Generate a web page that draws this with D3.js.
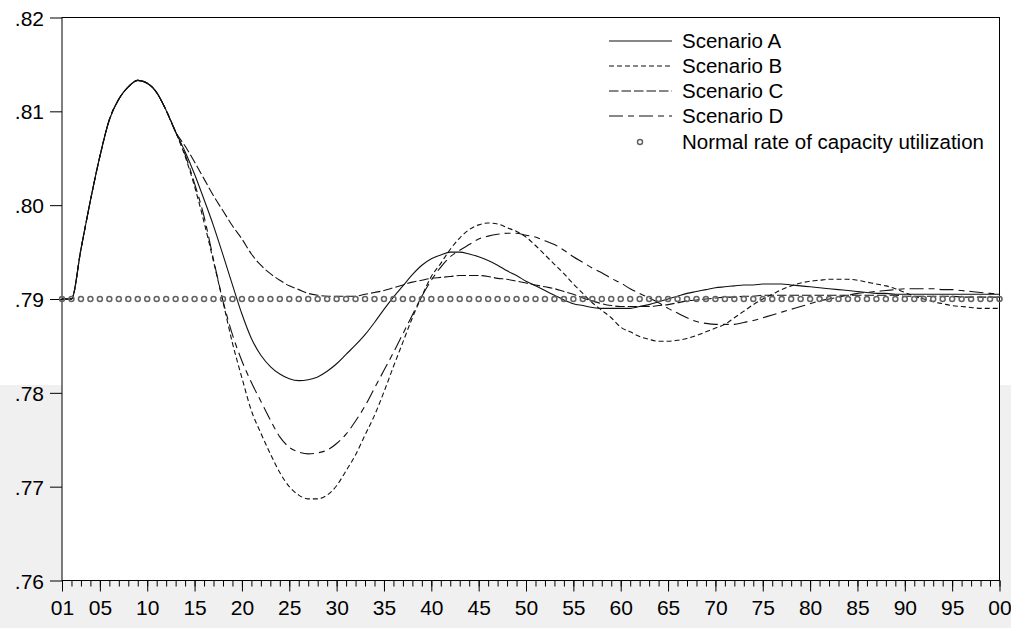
<!DOCTYPE html>
<html>
<head>
<meta charset="utf-8">
<script src="https://cdn.jsdelivr.net/npm/d3@7"></script>
<style>
  body { margin: 0; background: #fff; }
  svg { display: block; font-family: Arial, "Liberation Sans", sans-serif; }
</style>
</head>
<body>
<svg id="chart" width="1011" height="628"></svg>
<script>
// periods 01..00 (1..100)
var periods = d3.range(1, 101);
var xTickValues = [1, 5, 10, 15, 20, 25, 30, 35, 40, 45, 50, 55, 60, 65, 70, 75, 80, 85, 90, 95, 100];
var xTickLabels = ["01", "05", "10", "15", "20", "25", "30", "35", "40", "45", "50", "55", "60", "65", "70", "75", "80", "85", "90", "95", "00"];
var yTickValues = [0.76, 0.77, 0.78, 0.79, 0.80, 0.81, 0.82];
var yTickLabels = [".76", ".77", ".78", ".79", ".80", ".81", ".82"];
var normalRate = 0.79;

var scenarioA = [
  .7900, .7900, .7953, .8005, .8052, .8091, .8113, .8126, .8133, .8130,
  .8120, .8101, .8078, .8057, .8033, .8006, .7978, .7947, .7915, .7884,
  .7858, .7840, .7828, .7820, .7815, .7813, .7814, .7817, .7823, .7831,
  .7841, .7851, .7862, .7875, .7889, .7902, .7914, .7926, .7936, .7943,
  .7947, .7950, .7950, .7948, .7945, .7941, .7936, .7930, .7925, .7919,
  .7914, .7909, .7904, .7899, .7895, .7893, .7891, .7890, .7890, .7890,
  .7890, .7892, .7894, .7897, .7900, .7903, .7906, .7908, .7910, .7912,
  .7913, .7914, .7915, .7915, .7916, .7916, .7916, .7915, .7914, .7913,
  .7912, .7911, .7910, .7909, .7908, .7907, .7906, .7906, .7905, .7905,
  .7905, .7905, .7905, .7905, .7905, .7905, .7905, .7905, .7905, .7905
];
var scenarioB = [
  .7900, .7900, .7953, .8005, .8052, .8091, .8113, .8126, .8133, .8130,
  .8120, .8101, .8078, .8052, .8020, .7982, .7940, .7897, .7853, .7816,
  .7781, .7757, .7735, .7715, .7700, .7691, .7687, .7687, .7691, .7701,
  .7717, .7734, .7755, .7776, .7801, .7828, .7854, .7880, .7903, .7924,
  .7938, .7953, .7965, .7974, .7979, .7981, .7980, .7976, .7972, .7966,
  .7957, .7947, .7937, .7927, .7916, .7906, .7896, .7888, .7880, .7870,
  .7865, .7860, .7857, .7855, .7855, .7856, .7858, .7861, .7865, .7869,
  .7873, .7880, .7887, .7894, .7900, .7905, .7910, .7914, .7917, .7919,
  .7920, .7921, .7921, .7921, .7920, .7918, .7916, .7914, .7911, .7907,
  .7903, .7900, .7897, .7895, .7893, .7892, .7891, .7890, .7890, .7890
];
var scenarioC = [
  .7900, .7900, .7953, .8005, .8052, .8091, .8113, .8126, .8133, .8130,
  .8120, .8101, .8078, .8063, .8046, .8028, .8010, .7994, .7978, .7964,
  .7948, .7936, .7927, .7920, .7914, .7910, .7906, .7904, .7903, .7903,
  .7903, .7903, .7905, .7907, .7909, .7912, .7915, .7918, .7920, .7922,
  .7923, .7924, .7925, .7925, .7925, .7924, .7922, .7921, .7919, .7917,
  .7915, .7913, .7911, .7908, .7905, .7901, .7898, .7895, .7893, .7892,
  .7892, .7892, .7892, .7893, .7894, .7896, .7898, .7899, .7900, .7901,
  .7902, .7902, .7903, .7903, .7904, .7904, .7904, .7904, .7904, .7904,
  .7904, .7904, .7904, .7904, .7904, .7904, .7904, .7904, .7904, .7903,
  .7903, .7903, .7903, .7903, .7903, .7902, .7902, .7902, .7902, .7902
];
var scenarioD = [
  .7900, .7900, .7953, .8005, .8052, .8091, .8113, .8126, .8133, .8130,
  .8120, .8101, .8078, .8054, .8023, .7988, .7942, .7898, .7862, .7834,
  .7811, .7791, .7771, .7753, .7742, .7737, .7735, .7736, .7739, .7746,
  .7756, .7770, .7786, .7805, .7824, .7843, .7863, .7883, .7903, .7920,
  .7934, .7945, .7952, .7958, .7964, .7967, .7969, .7970, .7970, .7968,
  .7966, .7962, .7958, .7952, .7945, .7939, .7933, .7928, .7922, .7917,
  .7911, .7906, .7901, .7896, .7890, .7885, .7880, .7876, .7874, .7873,
  .7873, .7873, .7875, .7877, .7880, .7883, .7886, .7889, .7892, .7895,
  .7898, .7900, .7902, .7904, .7906, .7907, .7908, .7909, .7910, .7911,
  .7911, .7911, .7911, .7910, .7910, .7909, .7908, .7907, .7906, .7905
];

var seriesNames = ["Scenario A", "Scenario B", "Scenario C", "Scenario D"];
var seriesValues = [scenarioA, scenarioB, scenarioC, scenarioD];
var seriesDash = [null, "5,3", "9.5,3", "14,5,6,5"];
var normalLabel = "Normal rate of capacity utilization";

drawChart();

function drawChart() {
    var svg = d3.select("#chart");
    var W = 1011, H = 628;
    var plotL = 62, plotR = 999.5, plotT = 17.5, plotB = 580.5;

    // background: lower part of the window is light grey
    svg.append("rect").attr("x", 0).attr("y", 0).attr("width", W).attr("height", H).attr("fill", "#ffffff");
    svg.append("rect").attr("x", 0).attr("y", 385).attr("width", W).attr("height", H - 385).attr("fill", "#f0f0f0");
    svg.append("rect").attr("x", plotL).attr("y", plotT).attr("width", plotR - plotL).attr("height", plotB - plotT).attr("fill", "#ffffff");

    var x = d3.scaleLinear().domain([1, 100]).range([plotL, plotR]);
    var y = d3.scaleLinear().domain([0.76, 0.82]).range([plotB, plotT]);

    // x axis: minor tick every period, major every 5
    var xAxisMinor = d3.axisBottom(x).tickValues(periods).tickSize(6).tickFormat("");
    var xAxisMajor = d3.axisBottom(x).tickValues(xTickValues).tickSize(11)
        .tickFormat(function (d, i) { return xTickLabels[i]; }).tickPadding(9);

    var gx1 = svg.append("g").attr("transform", "translate(0," + plotB + ")").call(xAxisMinor);
    var gx2 = svg.append("g").attr("transform", "translate(0," + plotB + ")").call(xAxisMajor);
    [gx1, gx2].forEach(function (g) {
        g.select(".domain").remove();
        g.selectAll("line").attr("stroke", "#000");
    });
    gx2.selectAll("text").attr("fill", "#000").style("font-size", "21px");

    var yAxis = d3.axisLeft(y).tickValues(yTickValues).tickSize(12)
        .tickFormat(function (d, i) { return yTickLabels[i]; }).tickPadding(6);
    var gy = svg.append("g").attr("transform", "translate(" + plotL + ",0)").call(yAxis);
    gy.select(".domain").remove();
    gy.selectAll("line").attr("stroke", "#000");
    gy.selectAll("text").attr("fill", "#000").style("font-size", "21px").attr("dy", "0.36em");

    // frame
    svg.append("rect").attr("x", plotL).attr("y", plotT).attr("width", plotR - plotL).attr("height", plotB - plotT)
        .attr("fill", "none").attr("stroke", "#000").attr("stroke-width", 1);

    var line = d3.line()
        .x(function (d, i) { return x(periods[i]); })
        .y(function (d) { return y(d); })
        .curve(d3.curveMonotoneX);

    seriesValues.forEach(function (vals, k) {
        svg.append("path")
            .datum(vals)
            .attr("d", line)
            .attr("fill", "none")
            .attr("stroke", "#111")
            .attr("stroke-width", 1.1)
            .attr("stroke-dasharray", seriesDash[k]);
    });

    // normal rate markers
    svg.append("g").selectAll("circle")
        .data(periods)
        .enter().append("circle")
        .attr("cx", function (d) { return x(d); })
        .attr("cy", y(normalRate))
        .attr("r", 2.5)
        .attr("fill", "none")
        .attr("stroke", "#636363")
        .attr("stroke-width", 1.5);

    // legend
    var lg = svg.append("g").attr("transform", "translate(609,41)");
    seriesNames.forEach(function (name, k) {
        var row = lg.append("g").attr("transform", "translate(0," + (k * 25) + ")");
        row.append("line").attr("x1", 0).attr("x2", 63).attr("y1", 0).attr("y2", 0)
            .attr("stroke", "#111").attr("stroke-width", 1.1).attr("stroke-dasharray", seriesDash[k]);
        row.append("text").attr("x", 73).attr("y", 0).attr("dy", "0.35em")
            .style("font-size", "20.5px").attr("fill", "#000").text(name);
    });
    var nrow = lg.append("g").attr("transform", "translate(0," + (4 * 25 + 1) + ")");
    nrow.append("circle").attr("cx", 31).attr("cy", 0).attr("r", 2.5)
        .attr("fill", "none").attr("stroke", "#636363").attr("stroke-width", 1.5);
    nrow.append("text").attr("x", 73).attr("y", 0).attr("dy", "0.35em")
        .style("font-size", "20.5px").attr("fill", "#000").text(normalLabel);
}
</script>
</body>
</html>
